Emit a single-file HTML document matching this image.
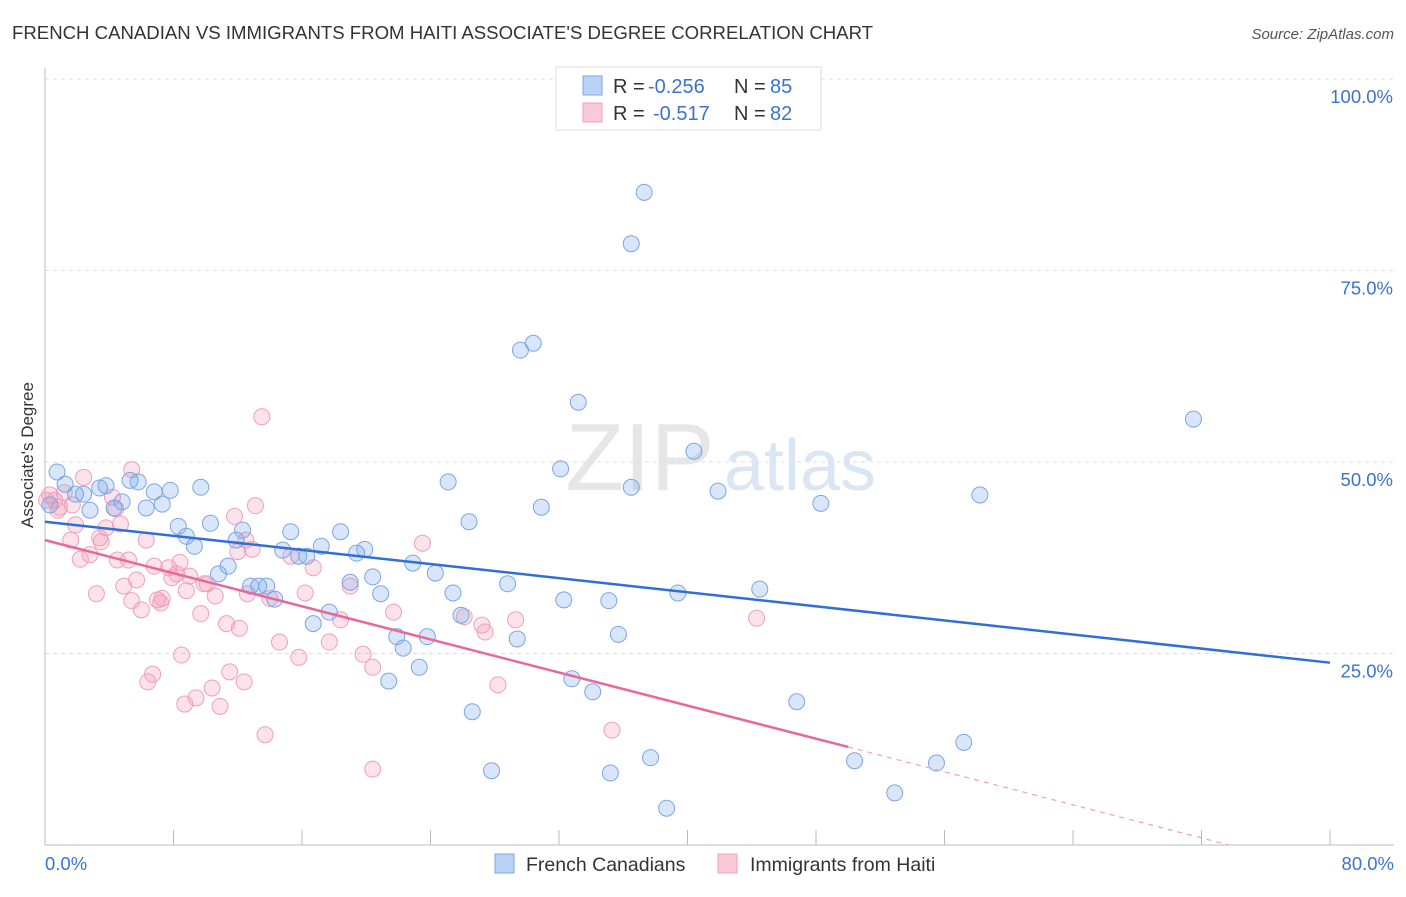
<!DOCTYPE html>
<html><head><meta charset="utf-8"><style>
body{margin:0;background:#fff;font-family:"Liberation Sans",sans-serif}
svg text{font-family:"Liberation Sans",sans-serif}
</style></head><body>
<svg id="chart" width="1406" height="892" xmlns="http://www.w3.org/2000/svg">
<text x="12" y="39" font-size="18.6" fill="#333">FRENCH CANADIAN VS IMMIGRANTS FROM HAITI ASSOCIATE'S DEGREE CORRELATION CHART</text>
<text x="1394" y="39" font-size="15" fill="#555" text-anchor="end" font-style="italic">Source: ZipAtlas.com</text>
<text x="640" y="490" font-size="96" fill="#e6e6e6" font-family="Liberation Serif" text-anchor="middle">ZIP</text>
<text x="800" y="490" font-size="72" fill="#dbe6f5" text-anchor="middle">atlas</text>
<g id="grid"></g><g id="axes"></g><g id="marks"></g>
<text x="33" y="455" font-size="17" fill="#333" text-anchor="middle" transform="rotate(-90 33 455)">Associate's Degree</text>
<g>
<rect x="556" y="67" width="265" height="63" fill="#fff" stroke="#ddd"/>
<rect x="583" y="76" width="19" height="19" fill="#b9d2f5" stroke="#7aa6e6"/>
<rect x="583" y="103" width="19" height="19" fill="#fcc9d8" stroke="#f0a0b8"/>
<g font-size="20" fill="#333">
<text x="613" y="93">R =</text><text x="648" y="93" fill="#3b73d0">-0.256</text>
<text x="734" y="93">N =</text><text x="770" y="93" fill="#3b73d0">85</text>
<text x="613" y="120">R =</text><text x="653" y="120" fill="#3b73d0">-0.517</text>
<text x="734" y="120">N =</text><text x="770" y="120" fill="#3b73d0">82</text>
</g>
</g>
<g>
<rect x="495" y="854" width="19" height="19" fill="#b9d2f5" stroke="#7aa6e6"/>
<text x="526" y="871" font-size="19.5" fill="#333">French Canadians</text>
<rect x="718" y="854" width="19" height="19" fill="#fcc9d8" stroke="#f0a0b8"/>
<text x="750" y="871" font-size="19.5" fill="#333">Immigrants from Haiti</text>
</g>
</svg>
<script>
const blueX=[0.75,1.25,1.9,2.4,2.8,3.4,3.8,4.3,4.8,5.3,5.8,6.3,6.8,7.3,7.8,8.3,8.8,9.3,9.7,10.3,10.8,11.4,11.9,12.3,12.8,13.3,13.8,14.3,14.8,15.3,15.8,16.3,16.7,17.2,17.7,18.4,19.0,19.4,19.9,20.4,20.9,21.4,21.9,22.3,22.9,23.3,23.8,24.3,25.1,25.4,25.9,26.4,26.6,27.8,28.8,29.4,29.6,30.4,30.9,32.1,32.3,32.8,33.2,34.1,35.1,35.2,35.7,36.5,36.5,37.3,37.7,38.7,39.4,40.4,41.9,44.5,46.8,48.3,50.4,52.9,55.5,57.2,58.2,71.5,0.3];
const blueY=[48.7,47.1,45.8,45.8,43.7,46.6,46.9,44.0,44.8,47.6,47.4,44.0,46.1,44.5,46.3,41.6,40.3,39.0,46.7,42.0,35.4,36.4,39.8,41.1,33.8,33.8,33.8,32.1,38.5,40.9,37.7,37.7,28.9,39.0,30.4,40.9,34.3,38.1,38.6,35.0,32.8,21.4,27.2,25.7,36.8,23.2,27.2,35.5,47.4,32.9,30.0,42.2,17.4,9.7,34.1,26.9,64.6,65.5,44.1,49.1,32.0,21.7,57.8,20.0,31.9,9.4,27.5,46.7,78.5,85.2,11.4,4.8,32.9,51.4,46.2,33.4,18.7,44.6,11.0,6.8,10.7,13.4,45.7,55.6,44.4];
const pinkX=[0.3,0.6,0.9,1.2,1.6,1.9,2.2,2.4,2.8,3.2,3.4,3.8,4.2,4.4,4.7,4.9,5.2,5.4,5.7,6.0,6.3,6.4,6.7,6.8,7.0,7.3,7.7,7.9,8.2,8.4,8.7,8.8,9.0,9.4,9.7,9.9,10.1,10.4,10.6,10.9,11.3,11.5,11.8,12.0,12.1,12.4,12.6,12.9,13.1,13.5,13.7,14.0,14.6,15.3,15.8,16.2,16.7,17.7,18.4,19.0,19.8,20.4,20.4,21.7,23.5,26.1,27.2,27.4,28.2,29.3,35.3,44.3,0.1,0.8,1.7,3.5,4.5,5.4,7.2,8.5,12.5];
const pinkY=[45.7,45.0,44.1,46.0,39.8,41.8,37.3,48.0,37.9,32.8,40.1,41.4,45.4,43.9,41.9,33.8,37.2,31.9,34.6,30.7,39.8,21.3,22.3,36.4,32.0,32.2,36.2,34.9,35.4,36.9,18.4,33.2,35.1,19.2,30.2,34.1,34.1,20.5,32.5,18.1,28.9,22.6,42.9,38.3,28.3,21.3,32.8,38.6,44.3,55.9,14.4,32.2,26.5,37.7,24.5,32.9,36.2,26.5,29.4,33.8,24.9,23.2,9.9,30.4,39.4,29.8,28.7,27.8,20.9,29.4,15.0,29.6,45.0,43.7,44.4,39.6,37.2,49.0,31.6,24.8,39.8];
const blueTrend=[42.2,23.8];
const pinkTrend=[39.8,-0.54];
const yTicks=[25,50,75,100];
const xTickLabels=["0.0%","80.0%"];
const NS='http://www.w3.org/2000/svg';
const sx=v=>45+v*(1285/80), sy=v=>845-v*(766/100);
function mk(parent,tag,attrs){const e=document.createElementNS(NS,tag);for(const k in attrs)e.setAttribute(k,attrs[k]);document.getElementById(parent).appendChild(e);return e;}
yTicks.forEach(t=>{
 let l=mk('grid','line',{x1:45,x2:1394,y1:sy(t),y2:sy(t),stroke:'#ddd','stroke-dasharray':'4,4'});
 
 
 let tx=mk('grid','text',{x:1393,y:sy(t)+24,'font-size':18.5,fill:'#3b73d0','text-anchor':'end'});tx.textContent=t.toFixed(1)+'%';
 
 
});
let ax=mk('axes','line',{x1:45,x2:45,y1:68,y2:845,stroke:'#bbb'});


let bx=mk('axes','line',{x1:45,x2:1394,y1:845,y2:845,stroke:'#bbb'});


for(let i=0;i<=10;i++){let t=mk('axes','line',{x1:sx(i*8),x2:sx(i*8),y1:830,y2:845,stroke:'#bbb'});
 
 }
[[0,'start',45],[80,'end',1394]].forEach((d,i)=>{let t=mk('axes','text',{x:d[2],y:870,'font-size':18.5,fill:'#3b73d0','text-anchor':d[1]});t.textContent=xTickLabels[i];
 
 });
pinkX.forEach((x,i)=>{let c=mk('marks','circle',{cx:sx(x),cy:sy(pinkY[i]),r:8,fill:'rgba(245,150,180,0.28)',stroke:'#f0a0b8','stroke-width':1});
 
 });
blueX.forEach((x,i)=>{let c=mk('marks','circle',{cx:sx(x),cy:sy(blueY[i]),r:8,fill:'rgba(120,165,235,0.28)',stroke:'#7aa6e6','stroke-width':1});
 
 });
let bl=mk('marks','line',{x1:sx(0),y1:sy(blueTrend[0]),x2:sx(80),y2:sy(blueTrend[1]),stroke:'#2f6fd6','stroke-width':2.5});


const pe=50, pz=-pinkTrend[0]/pinkTrend[1];
let pl=mk('marks','line',{x1:sx(0),y1:sy(pinkTrend[0]),x2:sx(pe),y2:sy(pinkTrend[0]+pinkTrend[1]*pe),stroke:'#e8689a','stroke-width':2.5});


let pd=mk('marks','line',{x1:sx(pe),y1:sy(pinkTrend[0]+pinkTrend[1]*pe),x2:sx(pz),y2:sy(0),stroke:'#f0a0b8','stroke-width':1.2,'stroke-dasharray':'5,5'});


</script>
</body></html>
